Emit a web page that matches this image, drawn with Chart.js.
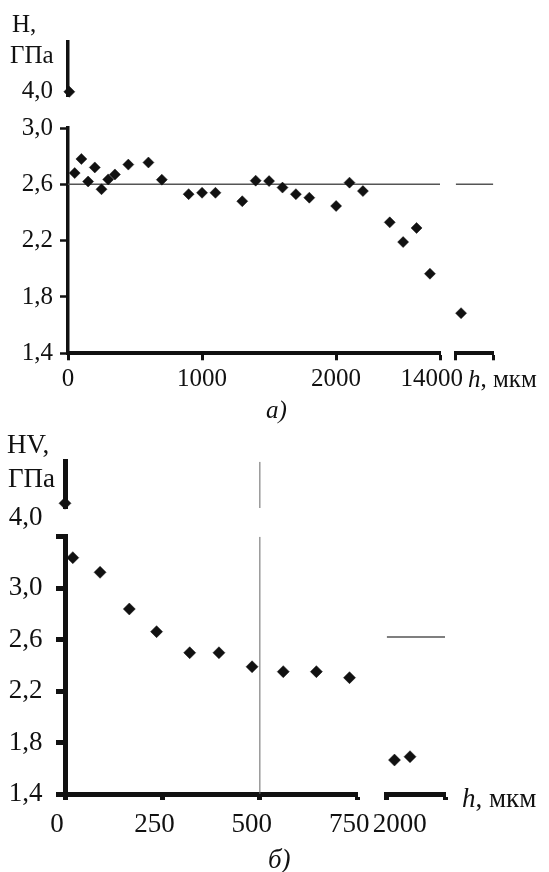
<!DOCTYPE html>
<html>
<head>
<meta charset="utf-8">
<script src="https://cdn.jsdelivr.net/npm/chart.js@4.4.0/dist/chart.umd.min.js"></script>
<style>
  html, body { margin: 0; padding: 0; background: #fff; }
  .box { position: absolute; left: 0; width: 549px; }
  #boxA { top: 0; height: 436px; }
  #boxB { top: 424px; height: 448px; }
</style>
</head>
<body>
<div class="box" id="boxA"><canvas id="chartA"></canvas></div>
<div class="box" id="boxB"><canvas id="chartB"></canvas></div>
<script>
// a) H vs depth h, mkm
const hA = [50, 100, 150, 200, 250, 300, 350, 450, 600, 700, 900, 1000, 1100, 1300, 1400, 1500, 1600, 1700, 1800, 2000, 2100, 2200, 2400, 2500, 2600, 2700];
const HA = [2.68, 2.78, 2.62, 2.72, 2.565, 2.635, 2.67, 2.74, 2.755, 2.633, 2.53, 2.54, 2.54, 2.48, 2.626, 2.623, 2.577, 2.53, 2.505, 2.446, 2.612, 2.552, 2.33, 2.19, 2.29, 1.965];
const hDeepA = [14040];
const HDeepA = [1.685];
const hSurfA = [10];
const HSurfA = [4.0];
const refA = 2.6;
const yTicksA = [1.4, 1.8, 2.2, 2.6, 3.0];
const yTopTicksA = [4.0];
const xTicksA = [0, 1000, 2000];
const xBreakA = 14000;
const xEndA = 2775, xEnd2A = 14280;

// б) HV vs depth h, mkm
const hB = [20, 90, 165, 235, 320, 395, 480, 560, 645, 730];
const HVB = [3.237, 3.123, 2.838, 2.662, 2.498, 2.498, 2.389, 2.351, 2.351, 2.304];
const hDeepB = [2020, 2060];
const HVDeepB = [1.664, 1.69];
const hSurfB = [0];
const HVSurfB = [4.0];
const refB = 2.62;
const markB = 500;
const yTicksB = [1.4, 1.8, 2.2, 2.6, 3.0];
const yTopTicksB = [4.0];
const yCapB = 3.4;
const xTicksB = [0, 250, 500, 750];
const xBreakB = 2000;
const xEnd2B = 2150;

Chart.defaults.font.family = '"Liberation Serif", "Times New Roman", serif';

const fmt = v => v.toFixed(1).replace('.', ',');
const pts = (xs, ys) => xs.map((x, i) => ({x: x, y: ys[i]}));

// one piece of a broken axis; pieces with the same stack sit side by side
function axis(pos, o) {
    const horiz = pos === 'bottom';
    const on = !!o.ticks;
    return {
        type: 'linear', position: pos, stack: horiz ? 'x' : 'y',
        stackWeight: o.size, weight: o.order,
        min: o.min, max: o.max, bounds: 'data',
        border: {display: on, color: '#111', width: o.bw || 1},
        grid: {display: on, drawOnChartArea: false, tickLength: o.tl || 0, tickWidth: o.tw || 1, tickColor: o.tickColor || '#111'},
        ticks: {display: on, autoSkip: false, maxRotation: 0, padding: o.pad || 0, labelOffset: o.shift || 0,
            color: '#111', font: {size: o.fs || 12}, callback: o.label || (() => '')},
        afterBuildTicks: s => { if (on) s.ticks = o.ticks.map(v => ({value: v})); },
        afterFit: s => { if (horiz) s.height = o.thick; else s.width = o.thick; }
    };
}

// axis titles and captions
const captions = {
    id: 'captions',
    afterDraw(chart, args, opts) {
        const ctx = chart.ctx;
        ctx.save();
        ctx.fillStyle = '#111';
        ctx.textBaseline = 'alphabetic';
        opts.items.forEach(t => {
            let x = t.x;
            t.parts.forEach(p => {
                ctx.font = p[1] + ' ' + t.size + 'px "Liberation Serif"';
                ctx.fillText(p[0], x, t.y);
                x += ctx.measureText(p[0]).width;
            });
        });
        ctx.restore();
    }
};

const dots = {pointStyle: 'rectRot', pointRadius: 5.5, backgroundColor: '#111', borderColor: '#111', borderWidth: 0.5, order: 0, clip: false};
const rule = {showLine: true, pointRadius: 0, borderColor: '#555', borderWidth: 1.5, order: 1};

new Chart(document.getElementById('chartA'), {
    type: 'scatter',
    plugins: [captions],
    data: {
        datasets: [
            Object.assign({data: pts(hA, HA), xAxisID: 'x1', yAxisID: 'yLow'}, dots),
            Object.assign({data: pts(hDeepA, HDeepA), xAxisID: 'x2', yAxisID: 'yLow'}, dots),
            Object.assign({data: pts(hSurfA, HSurfA), xAxisID: 'x1', yAxisID: 'yTop'}, dots),
            Object.assign({data: [{x: 0, y: refA}, {x: xEndA, y: refA}], xAxisID: 'x1', yAxisID: 'yLow'}, rule),
            Object.assign({data: [{x: xBreakA, y: refA}, {x: xEnd2A, y: refA}], xAxisID: 'x2', yAxisID: 'yLow'}, rule)
        ]
    },
    options: {
        responsive: true, maintainAspectRatio: false, animation: false, events: [],
        layout: {padding: {left: 0, right: 55.7, top: 42, bottom: 0}},
        plugins: {
            legend: {display: false}, tooltip: {enabled: false},
            captions: {items: [
                {x: 12, y: 32, size: 25, parts: [['H,', 'normal']]},
                {x: 10, y: 63, size: 25, parts: [['ГПа', 'normal']]},
                {x: 468, y: 387, size: 25, parts: [['h', 'italic'], [', мкм', 'normal']]},
                {x: 266, y: 418, size: 25, parts: [['а)', 'italic']]}
            ]}
        },
        scales: {
            yTop: axis('left', {size: 54, order: 3, min: 3.97, max: 4.354, ticks: yTopTicksA, label: fmt,
                bw: 3.5, tl: 8, tw: 2.5, tickColor: 'rgba(0,0,0,0)', pad: 7, fs: 25, thick: 68}),
            yg: axis('left', {size: 32, order: 2, min: 0, max: 1, thick: 68}),
            yLow: axis('left', {size: 225.3, order: 1, min: 1.4, max: 3.0, ticks: yTicksA, label: fmt,
                bw: 3.5, tl: 8, tw: 2.5, pad: 7, fs: 25, thick: 68}),
            x1: axis('bottom', {size: 372, order: 1, min: 0, max: xEndA, ticks: xTicksA.concat([xEndA]),
                label: v => xTicksA.includes(v) ? String(v) : '', bw: 4, tl: 7, tw: 3, pad: 4.5, fs: 25, thick: 82.7}),
            xg: axis('bottom', {size: 15.7, order: 2, min: 0, max: 1, thick: 82.7}),
            x2: axis('bottom', {size: 37.6, order: 3, min: xBreakA, max: xEnd2A, ticks: [xBreakA, xEnd2A],
                label: v => v === xBreakA ? String(v) : '', shift: -24, bw: 4, tl: 7, tw: 3, pad: 4.5, fs: 25, thick: 82.7})
        }
    }
});

new Chart(document.getElementById('chartB'), {
    type: 'scatter',
    plugins: [captions],
    data: {
        datasets: [
            Object.assign({data: pts(hB, HVB), xAxisID: 'x1', yAxisID: 'yLow'}, dots, {pointRadius: 6}),
            Object.assign({data: pts(hDeepB, HVDeepB), xAxisID: 'x2', yAxisID: 'yLow'}, dots, {pointRadius: 6}),
            Object.assign({data: pts(hSurfB, HVSurfB), xAxisID: 'x1', yAxisID: 'yTop'}, dots, {pointRadius: 6}),
            Object.assign({data: [{x: xBreakB, y: refB}, {x: xEnd2B, y: refB}], xAxisID: 'x2', yAxisID: 'yLow'}, rule),
            Object.assign({data: [{x: markB, y: 1.4}, {x: markB, y: yCapB}], xAxisID: 'x1', yAxisID: 'yLow'}, rule, {borderWidth: 1, borderColor: '#666'}),
            Object.assign({data: [{x: markB, y: 3.9635}, {x: markB, y: 4.3234}], xAxisID: 'x1', yAxisID: 'yTop'}, rule, {borderWidth: 1, borderColor: '#666'})
        ]
    },
    options: {
        responsive: true, maintainAspectRatio: false, animation: false, events: [],
        layout: {padding: {left: 0, right: 104, top: 37.7, bottom: 0}},
        plugins: {
            legend: {display: false}, tooltip: {enabled: false},
            captions: {items: [
                {x: 7, y: 29, size: 27, parts: [['HV,', 'normal']]},
                {x: 8, y: 62.7, size: 27, parts: [['ГПа', 'normal']]},
                {x: 462, y: 382.7, size: 27, parts: [['h', 'italic'], [', мкм', 'normal']]},
                {x: 268, y: 444, size: 27, parts: [['б)', 'italic']]}
            ]}
        },
        scales: {
            yTop: axis('left', {size: 46.3, order: 3, min: 3.9635, max: 4.3234, ticks: yTopTicksB, label: fmt, shift: 15,
                bw: 5, tl: 9, tw: 5, tickColor: 'rgba(0,0,0,0)', pad: 13.5, fs: 27, thick: 65}),
            yg: axis('left', {size: 28.7, order: 2, min: 0, max: 1, thick: 65}),
            yLow: axis('left', {size: 257.3, order: 1, min: 1.4, max: yCapB, ticks: yTicksB.concat([yCapB]),
                label: v => yTicksB.includes(v) ? fmt(v) : '', bw: 5, tl: 9, tw: 5, pad: 13.5, fs: 27, thick: 65}),
            x1: axis('bottom', {size: 292.3, order: 1, min: 0, max: 750, ticks: xTicksB,
                label: v => String(v), shift: -8, bw: 5, tl: 6, tw: 5, pad: 8.8, fs: 27, thick: 78}),
            xg: axis('bottom', {size: 29.4, order: 2, min: 0, max: 1, thick: 78}),
            x2: axis('bottom', {size: 58.3, order: 3, min: xBreakB, max: xEnd2B, ticks: [xBreakB, xEnd2B],
                label: v => v === xBreakB ? String(v) : '', shift: 13, bw: 5, tl: 6, tw: 5, pad: 8.8, fs: 27, thick: 78})
        }
    }
});
</script>
</body>
</html>
